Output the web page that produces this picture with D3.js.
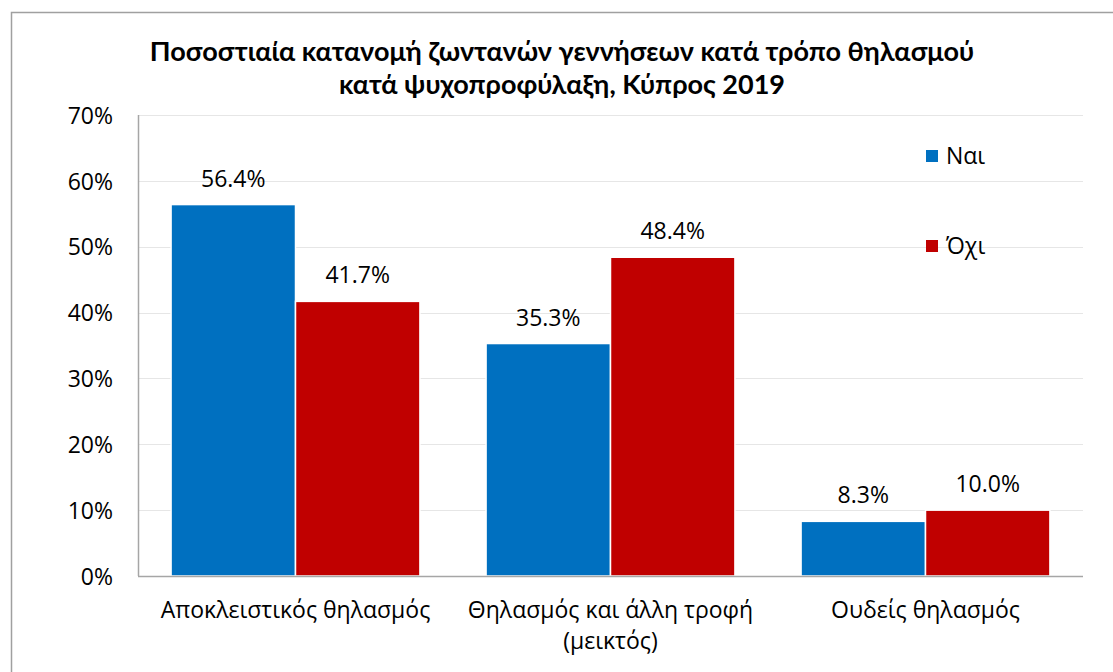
<!DOCTYPE html>
<html>
<head>
<meta charset="utf-8">
<script src="https://cdn.jsdelivr.net/npm/d3@7"></script>
<style>
  body { margin: 0; background: #fff; }
  svg { display: block; }
</style>
</head>
<body>
<svg id="chart" width="1113" height="672"></svg>
<script>
const categories = [["Αποκλειστικός θηλασμός"], ["Θηλασμός και άλλη τροφή", "(μεικτός)"], ["Ουδείς θηλασμός"]];
const seriesNames = ["Ναι", "Όχι"];
const valuesYes = [56.4, 35.3, 8.3];
const valuesNo = [41.7, 48.4, 10.0];
const yTicks = [0, 10, 20, 30, 40, 50, 60, 70];
const titleLines = ["Ποσοστιαία κατανομή ζωντανών γεννήσεων κατά τρόπο θηλασμού", "κατά ψυχοπροφύλαξη, Κύπρος 2019"];
const colors = ["#0070C0", "#C00000"];

const svg = d3.select("#chart");
const W = 1113, H = 672;
const plot = { left: 138, right: 1083, top: 115, bottom: 576 };
const font = "'Open Sans', sans-serif";
const fs = 23;

// outer border
svg.append("rect").attr("x", 11.5).attr("y", 12.5).attr("width", W + 20).attr("height", H + 20)
  .attr("fill", "#fff").attr("stroke", "#a0a0a0").attr("stroke-width", 1.5);

const x0 = d3.scaleBand().domain(d3.range(categories.length)).range([plot.left, plot.right]).paddingInner(0.21).paddingOuter(0.105);
const x1 = d3.scaleBand().domain(d3.range(seriesNames.length)).range([0, x0.bandwidth()]).padding(0);
const y = d3.scaleLinear().domain([0, 70]).range([plot.bottom, plot.top]);

// gridlines
svg.append("g").selectAll("line").data(yTicks.slice(1)).join("line")
  .attr("x1", plot.left).attr("x2", plot.right)
  .attr("y1", d => Math.round(y(d)) + 0.5).attr("y2", d => Math.round(y(d)) + 0.5)
  .attr("stroke", "#e6e6e6").attr("stroke-width", 1);

// y axis labels
const yAxis = d3.axisLeft(y).tickValues(yTicks).tickFormat(d => d + "%").tickSize(0).tickPadding(25);
const gy = svg.append("g").attr("transform", `translate(${plot.left},0)`).call(yAxis);
gy.select(".domain").remove();
gy.selectAll("text").attr("font-family", font).attr("font-size", fs).attr("fill", "#000").attr("dy", "0.36em");

// bars
const series = [valuesYes, valuesNo];
const gBars = svg.append("g");
series.forEach((vals, s) => {
  gBars.selectAll(null).data(vals).join("rect")
    .attr("x", (d, i) => x0(i) + x1(s))
    .attr("y", d => y(d))
    .attr("width", x1.bandwidth())
    .attr("height", d => y(0) - y(d))
    .attr("fill", colors[s])
    .attr("stroke", "#fff").attr("stroke-width", 1.5);
  gBars.selectAll(null).data(vals).join("text")
    .attr("x", (d, i) => x0(i) + x1(s) + x1.bandwidth() / 2)
    .attr("y", d => y(d) - 18)
    .attr("text-anchor", "middle")
    .attr("font-family", font).attr("font-size", fs).attr("fill", "#000")
    .text(d => d.toFixed(1) + "%");
});

// axes lines
svg.append("line").attr("x1", plot.left).attr("x2", plot.right).attr("y1", plot.bottom + 0.5).attr("y2", plot.bottom + 0.5)
  .attr("stroke", "#a6a6a6").attr("stroke-width", 1.5);
svg.append("line").attr("x1", plot.left + 0.5).attr("x2", plot.left + 0.5).attr("y1", plot.top).attr("y2", plot.bottom)
  .attr("stroke", "#a6a6a6").attr("stroke-width", 1.5);

// category labels
const gx = svg.append("g");
categories.forEach((lines, i) => {
  const t = gx.append("text").attr("text-anchor", "middle")
    .attr("font-family", font).attr("font-size", fs).attr("fill", "#000");
  lines.forEach((ln, k) => {
    t.append("tspan").attr("x", x0(i) + x0.bandwidth() / 2).attr("y", 618 + k * 31).text(ln);
  });
});

// title
const tt = svg.append("text").attr("text-anchor", "middle").attr("font-family", "Lato, sans-serif")
  .attr("font-weight", "bold").attr("font-size", 27).attr("fill", "#000");
titleLines.forEach((ln, k) => {
  tt.append("tspan").attr("x", 562).attr("y", 61 + k * 33).text(ln);
});

// legend
const lg = svg.append("g");
seriesNames.forEach((name, s) => {
  lg.append("rect").attr("x", 926).attr("y", 150 + s * 90).attr("width", 12).attr("height", 12).attr("fill", colors[s]);
  lg.append("text").attr("x", 946).attr("y", 164 + s * 90).attr("font-family", font).attr("font-size", fs)
    .attr("fill", "#000").text(name);
});
</script>
</body>
</html>
